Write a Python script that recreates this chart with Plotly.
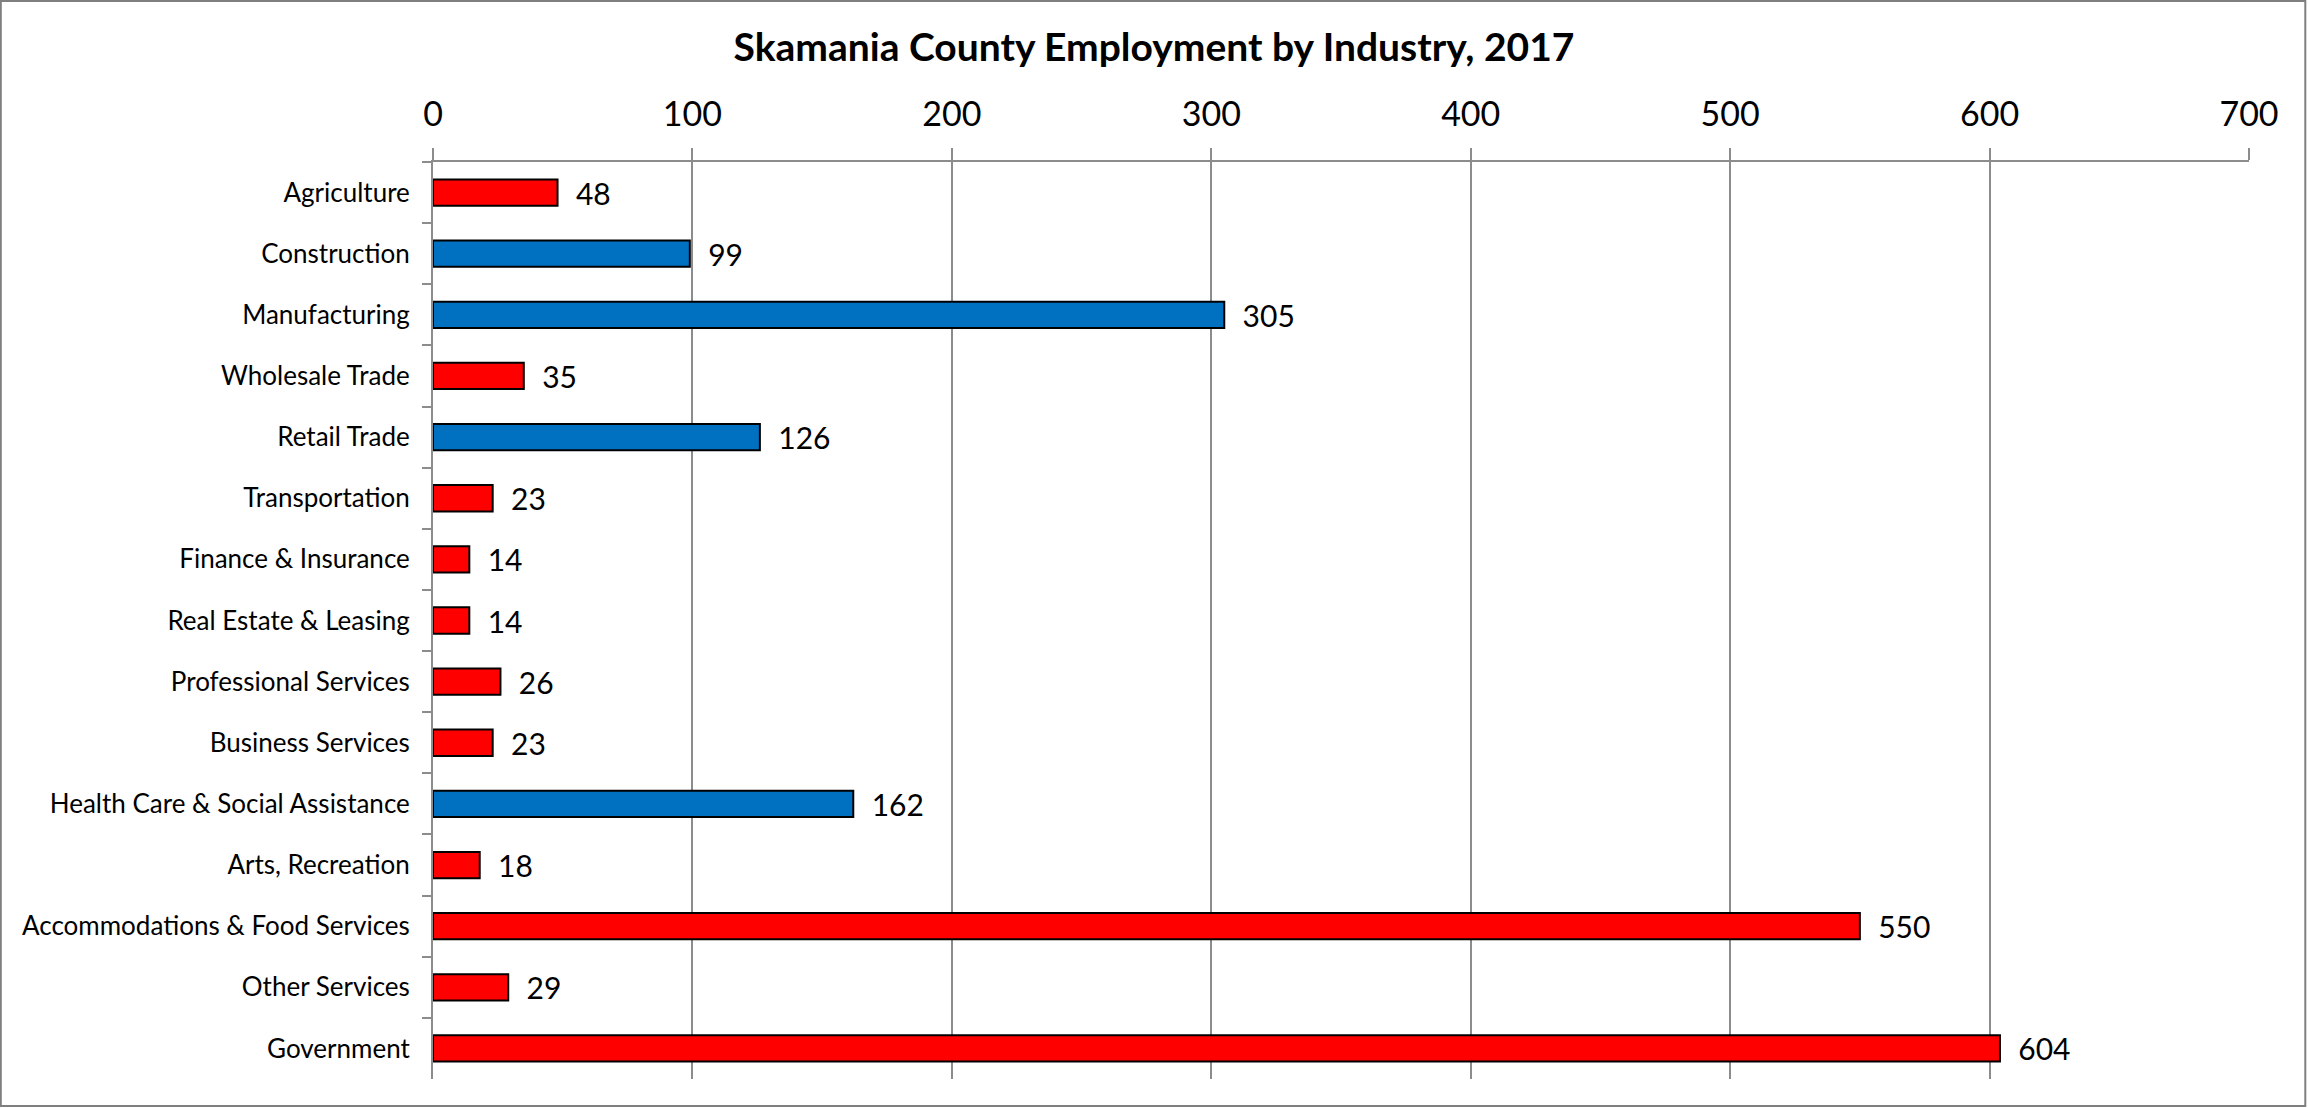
import plotly.graph_objects as go

industries = ['Agriculture', 'Construction', 'Manufacturing', 'Wholesale Trade', 'Retail Trade',
              'Transportation', 'Finance & Insurance', 'Real Estate & Leasing', 'Professional Services',
              'Business Services', 'Health Care & Social Assistance', 'Arts, Recreation',
              'Accommodations & Food Services', 'Other Services', 'Government']
employment = [48, 99, 305, 35, 126, 23, 14, 14, 26, 23, 162, 18, 550, 29, 604]
highlight = ['Construction', 'Manufacturing', 'Retail Trade', 'Health Care & Social Assistance']

bar_colors = ['#0070C0' if name in highlight else '#FF0000' for name in industries]

font = 'Lato, Carlito, Calibri, sans-serif'

fig = go.Figure(go.Bar(
    x=employment, y=industries, orientation='h',
    marker=dict(color=bar_colors, line=dict(color='black', width=2)),
    text=employment, texttemplate='  %{text}', textposition='outside',
    constraintext='none',
    textfont=dict(family=font, size=30, color='black'),
    cliponaxis=False, width=0.43,
))

fig.update_layout(
    width=2308, height=1108,
    paper_bgcolor='white', plot_bgcolor='white',
    margin=dict(l=433, r=59, t=162, b=29),
    showlegend=False,
    title=dict(text='<b>Skamania County Employment by Industry, 2017</b>',
               x=0.5, xref='container', xanchor='center', y=0.9576, yref='container', yanchor='middle',
               font=dict(family=font, size=39, color='black')),
    xaxis=dict(side='top', range=[0, 700], dtick=100, tick0=0,
               showgrid=True, gridcolor='#8c8c8c', gridwidth=2,
               showline=True, linecolor='#8c8c8c', linewidth=2,
               ticks='outside', ticklen=12, tickcolor='#8c8c8c', tickwidth=2,
               ticklabelstandoff=8,
               tickfont=dict(family=font, size=34, color='black'), zeroline=False),
    yaxis=dict(autorange='reversed', showline=True, linecolor='#8c8c8c', linewidth=2,
               ticks='outside', tickson='boundaries', ticklen=9, tickcolor='#8c8c8c', tickwidth=2,
               ticklabelstandoff=16,
               tickfont=dict(family=font, size=26, color='black'), showgrid=False),
)

# chart-area border
fig.add_shape(type='rect', xref='paper', yref='paper',
              x0=-0.238, x1=1.031, y0=-0.0294, y1=1.1756,
              line=dict(color='#7f7f7f', width=2), layer='below')

fig.write_html('out.html', config={'displayModeBar': False},
               post_script="document.body.style.margin='0';")
